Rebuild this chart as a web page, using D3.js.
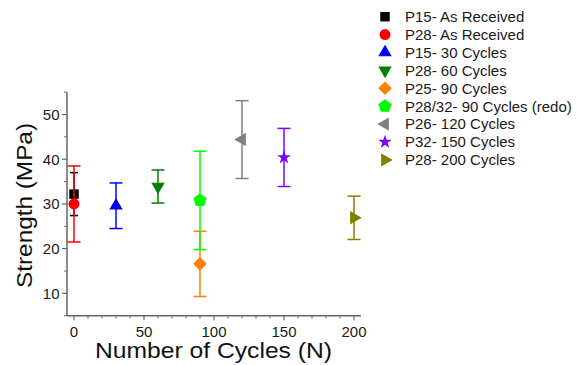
<!DOCTYPE html>
<html><head><meta charset="utf-8">
<script src="https://cdn.jsdelivr.net/npm/d3@7"></script>
<style>
body{margin:0;background:#fff;}
text{font-family:"Liberation Sans",Arial,Helvetica,sans-serif;}
</style></head>
<body><svg id="c" width="577" height="365"></svg>
<script>
const seriesNames = ["P15- As Received","P28- As Received","P15- 30 Cycles","P28- 60 Cycles","P25- 90 Cycles","P28/32- 90 Cycles (redo)","P26- 120 Cycles","P32- 150 Cycles","P28- 200 Cycles"];
const cycles = [0, 0, 30, 60, 90, 90, 120, 150, 200];
const strength = [32.2, 30.0, 29.6, 33.9, 16.6, 30.8, 44.4, 40.4, 26.9];
const errors = [4.8, 8.5, 5.1, 3.7, 7.3, 11.0, 8.7, 6.5, 4.85];
const colors = ["#000000","#ff0000","#0000ff","#007f00","#ff8000","#00ff00","#808080","#8000ff","#808000"];
const shapes = ["square","circle","triUp","triDown","diamond","pentagon","triLeft","star","triRight"];
const xTicks = [0, 50, 100, 150, 200];
const yTicks = [10, 20, 30, 40, 50];

const svg = d3.select("#c");
const x = d3.scaleLinear().domain([-5, 205]).range([67, 361]);
const y = d3.scaleLinear().domain([5, 55]).range([315.7, 92.2]);
const axisColor = "#666";

function symbolPath(shape){
  switch(shape){
    case "square": return d3.symbol(d3.symbolSquare, 90)();
    case "circle": return d3.symbol(d3.symbolCircle, 95)();
    case "triUp": case "triDown": case "triLeft": case "triRight": return d3.symbol(d3.symbolTriangle, 78)();
    case "diamond": return d3.symbol(d3.symbolSquare, 92)();
    case "star": return d3.symbol(d3.symbolStar, 60)();
    case "pentagon": {
      const r = 7; const pts = [];
      for(let i=0;i<5;i++){const a = -Math.PI/2 + i*2*Math.PI/5; pts.push([r*Math.cos(a), r*Math.sin(a)]);}
      return "M" + pts.map(p=>p.join(",")).join("L") + "Z";
    }
  }
}
function symbolRot(shape){
  return {triDown:180, triLeft:-90, triRight:90, diamond:45}[shape] || 0;
}

// axes
const gx = svg.append("g").attr("transform","translate(0,315.7)");
gx.append("line").attr("x1",67).attr("x2",361).attr("stroke",axisColor).attr("stroke-width",1.5);
const xMinor = d3.range(0, 201, 10).filter(v=>!xTicks.includes(v));
gx.selectAll("line.mn").data(xMinor).join("line").attr("class","mn")
  .attr("x1",d=>x(d)).attr("x2",d=>x(d)).attr("y1",0).attr("y2",3).attr("stroke",axisColor).attr("stroke-width",1);
gx.selectAll("line.mj").data(xTicks).join("line").attr("class","mj")
  .attr("x1",d=>x(d)).attr("x2",d=>x(d)).attr("y1",0).attr("y2",4.5).attr("stroke",axisColor).attr("stroke-width",1.2);
gx.selectAll("text").data(xTicks).join("text")
  .attr("x",d=>x(d)).attr("y",21).attr("text-anchor","middle").attr("font-size",15).attr("fill","#1a1a1a").text(d=>d);

const gy = svg.append("g");
gy.append("line").attr("x1",67).attr("x2",67).attr("y1",y(55)).attr("y2",315.7).attr("stroke",axisColor).attr("stroke-width",1.5);
const yMinor = d3.range(5, 56, 5).filter(v=>!yTicks.includes(v));
gy.selectAll("line.mn").data(yMinor).join("line").attr("class","mn")
  .attr("x1",64).attr("x2",67).attr("y1",d=>y(d)).attr("y2",d=>y(d)).attr("stroke",axisColor).attr("stroke-width",1);
gy.selectAll("line.mj").data(yTicks).join("line").attr("class","mj")
  .attr("x1",62).attr("x2",67).attr("y1",d=>y(d)).attr("y2",d=>y(d)).attr("stroke",axisColor).attr("stroke-width",1.2);
gy.selectAll("text").data(yTicks).join("text")
  .attr("x",59.5).attr("y",d=>y(d)+5.3).attr("text-anchor","end").attr("font-size",15).attr("fill","#1a1a1a").text(d=>d);

// axis titles
svg.append("text").attr("x",213.5).attr("y",358).attr("text-anchor","middle").attr("font-size",22)
  .attr("textLength",237).attr("lengthAdjust","spacingAndGlyphs").attr("fill","#111").text("Number of Cycles (N)");
svg.append("text").attr("transform","translate(31.5,205.5) rotate(-90)").attr("text-anchor","middle").attr("font-size",22)
  .attr("textLength",165).attr("lengthAdjust","spacingAndGlyphs").attr("fill","#111").text("Strength (MPa)");

// data
const data = seriesNames.map((n,i)=>({name:n, cx:cycles[i], v:strength[i], e:errors[i], color:colors[i], shape:shapes[i]}));
const gd = svg.append("g");
data.forEach((d,i)=>{
  const g = gd.append("g");
  const px = x(d.cx), cap = i===0 ? 4 : 6.5;
  const yt = y(d.v + d.e), yb = y(d.v - d.e);
  g.append("line").attr("x1",px).attr("x2",px).attr("y1",yt).attr("y2",yb).attr("stroke",d.color).attr("stroke-width",1.5);
  [yt,yb].forEach(yy=>g.append("line").attr("x1",px-cap).attr("x2",px+cap).attr("y1",yy).attr("y2",yy).attr("stroke",d.color).attr("stroke-width",1.5));
  g.append("path").attr("d",symbolPath(d.shape)).attr("fill",d.color)
    .attr("transform",`translate(${px},${y(d.v)}) rotate(${symbolRot(d.shape)})`);
});

// legend
const lg = svg.append("g");
data.forEach((d,i)=>{
  const yy = 16.7 + i*17.9;
  lg.append("path").attr("d",symbolPath(d.shape)).attr("fill",d.color)
    .attr("transform",`translate(385,${yy}) rotate(${symbolRot(d.shape)})`);
  lg.append("text").attr("x",405).attr("y",yy+5.3).attr("font-size",15).attr("fill","#1a1a1a").text(d.name);
});
</script></body></html>
